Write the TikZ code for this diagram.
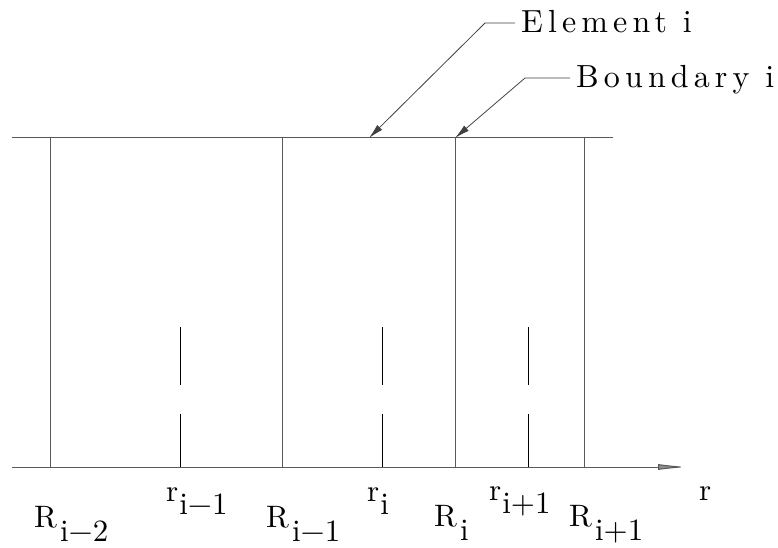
\documentclass[tikz,border=0pt]{standalone}
\usepackage{fontspec}
\newfontfamily\labfont{lmroman10-regular.otf}
\newfontfamily\spacedfont{lmroman10-regular.otf}[LetterSpace=16]
\usepackage{tikz}
\usetikzlibrary{arrows.meta}

\newcommand{\Rsub}[1]{R\hspace{3pt}\raisebox{-14pt}[\height][0pt]{#1}}
\newcommand{\rsub}[1]{r\hspace{1pt}\raisebox{-13pt}[\height][0pt]{#1}}

\begin{document}
\begin{tikzpicture}[
    x=1pt, y=-1pt,
    frame/.style={line width=1pt, black!65},
    centre/.style={line width=1pt, black},
    leader/.style={line width=0.8pt, black!75, -{Latex[length=15pt,width=7pt]}},
    axislbl/.style={inner sep=0pt, anchor=base west, font=\labfont\fontsize{31pt}{34pt}\selectfont},
    callout/.style={inner sep=0pt, anchor=base west, font=\spacedfont\fontsize{32pt}{35pt}\selectfont},
]
    \useasboundingbox (0,0) rectangle (778,548);

    % Top line and r axis
    \coordinate (topL) at (12,138);
    \coordinate (topR) at (613,138);
    \coordinate (axL) at (12,467);
    \coordinate (axR) at (688,467);
    \draw[frame] (topL) -- (topR);
    \draw[frame, -{Latex[length=30pt, width=6pt, fill=black!45]}] (axL) -- (axR);

    % Boundaries R
    \foreach \name/\x in {Rim2/50, Rim1/282, Ri/455, Rip1/584} {
        \coordinate (\name) at (\x,467);
        \draw[frame] (\name) -- (\name |- topL);
    }

    % Element centres r
    \foreach \name/\x in {rim1/180, ri/382, rip1/528} {
        \coordinate (\name) at (\x,467);
        \draw[centre] (\x,327) -- (\x,385);
        \draw[centre] (\x,414) -- (\name);
    }

    % Labels
    \node[axislbl] (lRim2) at (34,527) {\Rsub{i−2}};
    \node[axislbl] (lrim1) at (166,501) {\rsub{i−1}};
    \node[axislbl] (lRim1) at (266,527) {\Rsub{i−1}};
    \node[axislbl] (lri) at (367,501) {\rsub{i}};
    \node[axislbl] (lRi) at (434,526) {\Rsub{i}};
    \node[axislbl] (lrip1) at (489,500) {\rsub{i+1}};
    \node[axislbl] (lRip1) at (569,526) {\Rsub{i+1}};
    \node[axislbl] (lr) at (699,500) {r};

    % Callouts
    \coordinate (elemtip) at (369,138);
    \coordinate (bndtip) at (455,138);
    \node[callout] (elem) at (521,33) {Element i};
    \node[callout] (bnd) at (576,88) {Boundary i};
    \draw[leader] (elem.base west) ++(-6,-10) -- ++(-30,0) -- (elemtip);
    \draw[leader] (bnd.base west) ++(-6,-10) -- ++(-45,0) -- (bndtip);
\end{tikzpicture}
\end{document}
